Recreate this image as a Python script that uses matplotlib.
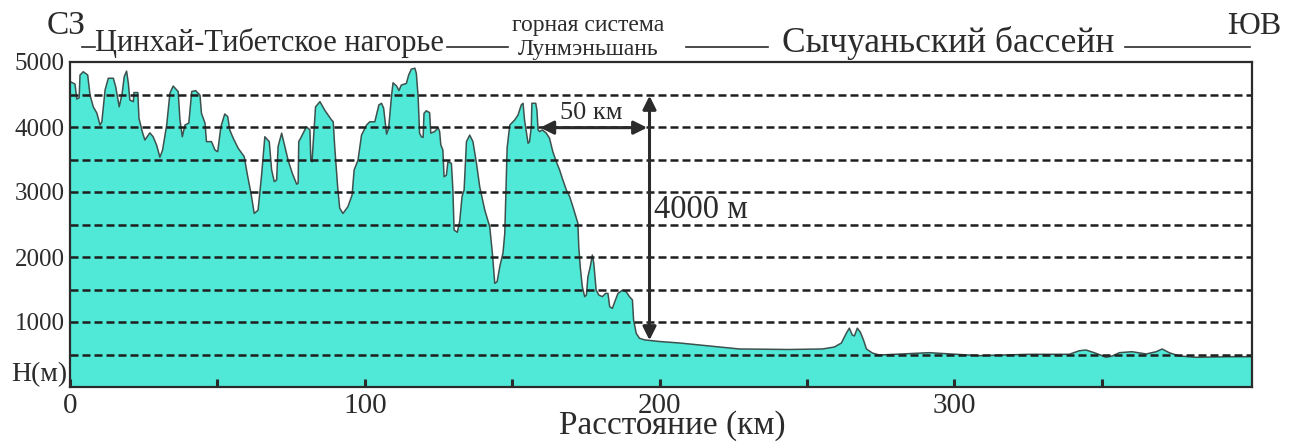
import matplotlib
matplotlib.use("Agg")
import matplotlib.pyplot as plt
from matplotlib.lines import Line2D

plt.rcParams['font.family'] = ['Liberation Serif', 'DejaVu Serif']

# elevation profile along the section, NW -> SE
dist_km = [0, 1.7, 2.3, 3.1, 3.4, 4.5, 6.0, 6.8, 7.9, 9.1, 10.2, 10.8, 11.9, 13.0,
           14.7, 15.5, 16.7, 17.7, 18.4, 19.2, 19.8, 20.3, 21.5, 21.7, 23.0, 23.4,
           24.5, 25.4, 27.1, 28.2, 29.4, 30.5, 31.4, 32.8, 33.9, 35.0, 36.7, 37.3,
           38.1, 39.0, 40.3, 41.3, 42.6, 44.1, 44.6, 45.8, 46.3, 48.0, 49.2, 50.1,
           51.2, 52.5, 53.5, 54.2, 55.4, 57.1, 59.1, 60.2, 61.4, 62.5, 63.8, 65.0,
           66.1, 67.6, 68.4, 69.3, 70.1, 70.6, 71.8, 72.9, 74.0, 75.4, 76.9, 77.4,
           77.6, 78.5, 80.2, 81.4, 81.7, 82.1, 82.8, 83.3, 84.8, 86.4, 88.7, 89.3,
           89.8, 90.8, 91.5, 92.6, 94.3, 95.7, 96.4, 97.7, 98.9, 100.6, 101.7,
           103.4, 104.8, 105.7, 106.4, 107.4, 108.1, 109.1, 109.6, 110.8, 111.6,
           112.4, 114.1, 114.9, 115.8, 117.0, 117.5, 118.1, 118.6, 119.2, 119.8,
           120.1, 120.9, 122.0, 122.4, 123.7, 124.9, 125.4, 125.8, 126.5, 126.9,
           127.7, 128.2, 129.4, 129.9, 130.3, 131.4, 132.2, 133.0, 133.7, 134.5,
           135.6, 136.7, 137.9, 139.0, 140.7, 142.4, 143.3, 144.1, 144.9, 145.8,
           146.9, 147.5, 148.3, 149.2, 150.9, 152.0, 153.1, 153.7, 154.2, 155.4,
           155.9, 156.5, 156.7, 158.0, 158.4, 158.8, 159.3, 160.2, 161.6, 162.7,
           163.8, 165.0, 166.1, 167.2, 168.4, 169.5, 170.6, 171.8, 172.3, 172.6,
           173.1, 173.8, 174.6, 175.2, 175.7, 176.5, 177.2, 177.7, 178.5, 179.4,
           180.6, 181.7, 182.5, 183.1, 184.0, 184.8, 185.9, 187.4, 188.7, 189.8,
           190.8, 191.2, 192.1, 193.2, 194.9, 197.7, 200.0, 206.8, 213.6, 227.1,
           244.0, 255.3, 259.3, 261.7, 263.4, 264.4, 265.4, 266.1, 267.1, 268.1,
           269.2, 270.2, 272.2, 274.6, 291.5, 308.5, 325.4, 339.0, 342.4, 344.7,
           348.1, 351.5, 353.6, 356.0, 360.3, 365.1, 368.5, 370.5, 372.9, 376.3,
           382.0, 393.2, 401.0]
height_m = [4700, 4660, 4430, 4450, 4800, 4850, 4800, 4490, 4310, 4215, 4030, 4080,
            4570, 4750, 4750, 4620, 4310, 4520, 4775, 4860, 4670, 4415, 4390, 4530,
            4530, 4135, 3930, 3800, 3910, 3850, 3720, 3535, 3645, 4030, 4520, 4630,
            4545, 4110, 3850, 4030, 4060, 4545, 4560, 4490, 4210, 4060, 3775, 3775,
            3645, 3620, 4005, 4200, 4160, 3955, 3825, 3670, 3545, 3260, 2980, 2670,
            2720, 3260, 3850, 3775, 3340, 3160, 3185, 3700, 3905, 3700, 3490, 3290,
            3120, 3135, 3775, 3850, 4005, 3955, 3490, 3465, 3955, 4310, 4390, 4260,
            4110, 4080, 3700, 3080, 2750, 2670, 2775, 2955, 3340, 3490, 3875, 4030,
            4080, 4080, 4340, 4365, 4290, 3890, 3980, 4490, 4680, 4630, 4560, 4645,
            4670, 4800, 4890, 4905, 4825, 4465, 3905, 3850, 3840, 4210, 4250, 4220,
            3905, 3930, 3990, 3930, 3725, 3645, 3235, 3260, 3465, 3440, 3030, 2415,
            2380, 2545, 2930, 3030, 3775, 3875, 3775, 3440, 3080, 2725, 2465, 2055,
            1595, 1620, 1850, 2065, 2365, 3680, 4030, 4110, 4185, 4340, 4365, 4110,
            3750, 3775, 4005, 4365, 4365, 4260, 3955, 3930, 3955, 3905, 3825, 3620,
            3465, 3340, 3185, 3030, 2930, 2775, 2595, 2520, 2160, 1850, 1545, 1390,
            1415, 1695, 1850, 2030, 1905, 1490, 1415, 1390, 1440, 1440, 1235, 1210,
            1310, 1440, 1490, 1465, 1390, 1340, 1030, 825, 750, 725, 712, 700, 677,
            646, 585, 577, 585, 615, 677, 830, 905, 800, 785, 905, 845, 723, 585,
            523, 492, 528, 482, 503, 503, 558, 569, 518, 457, 477, 528, 543, 508,
            543, 585, 528, 477, 457, 466, 466]

grid_levels = [500, 1000, 1500, 2000, 2500, 3000, 3500, 4000, 4500]
y_ticks = [1000, 2000, 3000, 4000, 5000]
x_major = [0, 100, 200, 300]
x_minor = [50, 150, 250, 350]

fill_color = '#50E8D6'
ink = '#2b2b2b'

fig = plt.figure(figsize=(13, 4.43), dpi=100)
ax = fig.add_axes([70 / 1300, 56 / 443, 1182 / 1300, 325 / 443])

ax.fill_between(dist_km, height_m, 0, facecolor=fill_color, edgecolor='none', zorder=1)
ax.plot(dist_km, height_m, color='#3d524f', lw=1.1, zorder=2)

for lvl in grid_levels:
    ax.axhline(lvl, color='#1e1e1e', lw=1.8, dashes=(3.2, 1.6), zorder=3)

ax.set_xlim(0, 401)
ax.set_ylim(0, 5000)

for sp in ax.spines.values():
    sp.set_color(ink)
    sp.set_linewidth(1.6)
    sp.set_zorder(5)

ax.set_yticks(y_ticks)
ax.set_yticklabels([str(v) for v in y_ticks])
ax.tick_params(axis='y', length=0, pad=4, labelsize=18, labelcolor=ink)

ax.set_xticks(x_major)
ax.set_xticklabels([str(v) for v in x_major])
ax.set_xticks(x_minor, minor=True)
ax.tick_params(axis='x', which='both', direction='in', length=6, width=2.2,
               color=ink, pad=4, labelsize=21, labelcolor=ink)

ax.text(-0.002, 0.0, 'H(м)', transform=ax.transAxes, ha='right', va='bottom',
        fontsize=20, color=ink)
fig.text(672 / 1300, 1 - 441 / 443, 'Расстояние (км)', ha='center', va='bottom',
         fontsize=24, color=ink)

# relief step annotations
ax.annotate('', xy=(159.5, 3990), xytext=(195.8, 3990),
            arrowprops=dict(arrowstyle='<|-|>', color=ink, lw=2.2,
                            mutation_scale=20, shrinkA=0, shrinkB=0), zorder=6)
ax.text(176.8, 4215, '50 км', ha='center', va='center', fontsize=19, color=ink,
        zorder=6)
ax.annotate('', xy=(196.6, 4480), xytext=(196.6, 720),
            arrowprops=dict(arrowstyle='<|-|>', color=ink, lw=2.2,
                            mutation_scale=20, shrinkA=0, shrinkB=0), zorder=6)
ax.text(198.2, 2720, '4000 м', ha='left', va='center', fontsize=23.5, color=ink,
        zorder=6)

# header: regions along the section
def fx(px):
    return px / 1300

def fy(py):
    return 1 - py / 443

fig.text(fx(47), fy(26), 'СЗ', ha='left', va='center', fontsize=24, color=ink)
fig.text(fx(1227), fy(26), 'ЮВ', ha='left', va='center', fontsize=23, color=ink)
fig.text(fx(95), fy(43), 'Цинхай-Тибетское нагорье', ha='left', va='center',
         fontsize=22, color=ink)
fig.text(fx(588), fy(26), 'горная система', ha='center', va='center',
         fontsize=17, color=ink)
fig.text(fx(588), fy(49), 'Лунмэньшань', ha='center', va='center',
         fontsize=17, color=ink)
fig.text(fx(782), fy(43), 'Сычуаньский бассейн', ha='left', va='center',
         fontsize=25.5, color=ink)

for x0, x1 in [(82, 95), (447, 508), (686, 768), (1125, 1250)]:
    fig.add_artist(Line2D([fx(x0), fx(x1)], [fy(47), fy(47)],
                          transform=fig.transFigure, color=ink, lw=1.2))

fig.savefig('out.png', dpi=100, facecolor='white')
